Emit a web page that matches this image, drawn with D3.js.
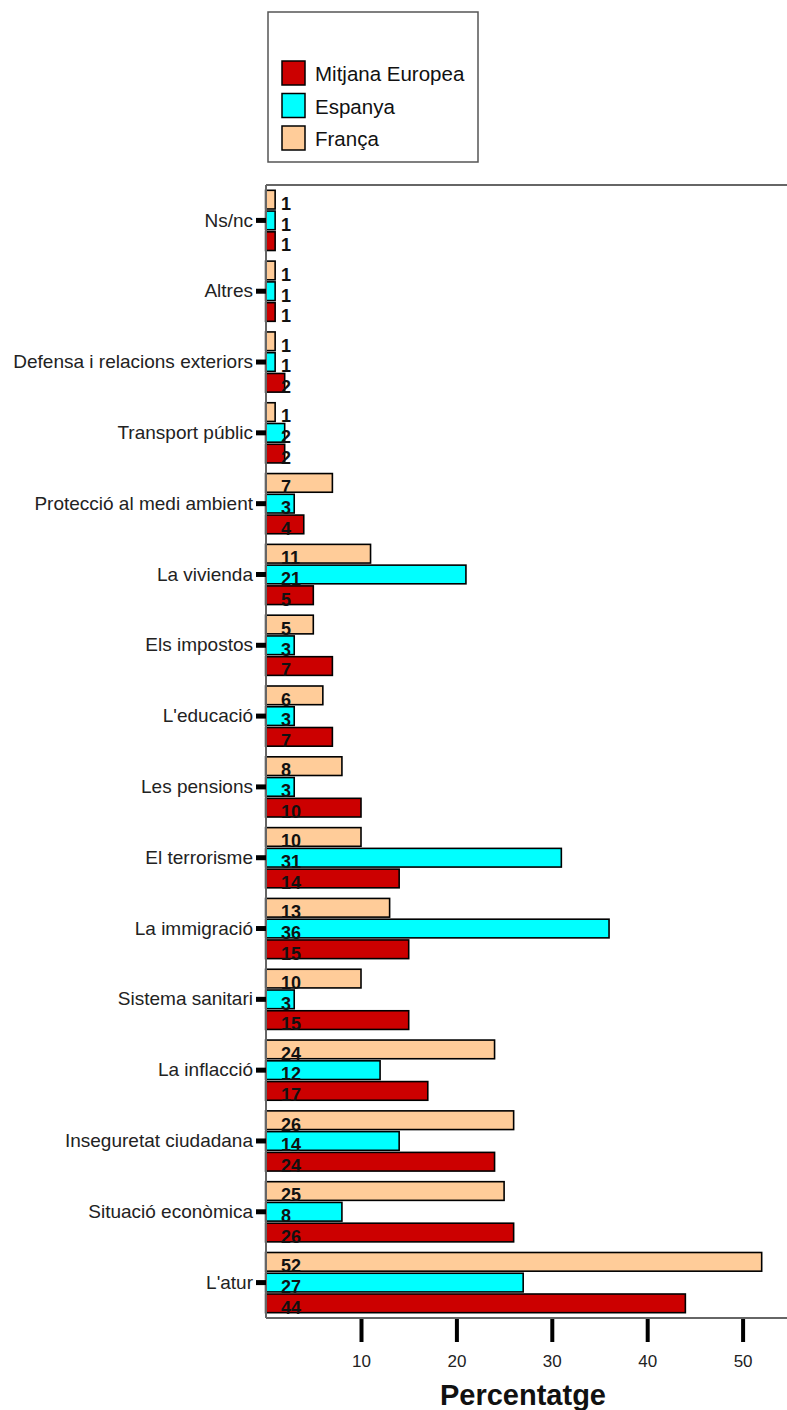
<!DOCTYPE html>
<html><head><meta charset="utf-8">
<script src="https://cdn.jsdelivr.net/npm/d3@7"></script>
<style>body{margin:0;background:#fff}svg{display:block;font-family:"Liberation Sans",Arial,sans-serif}</style>
</head><body>
<script>
const categories = ["Ns/nc","Altres","Defensa i relacions exteriors","Transport públic","Protecció al medi ambient","La vivienda","Els impostos","L'educació","Les pensions","El terrorisme","La immigració","Sistema sanitari","La inflacció","Inseguretat ciudadana","Situació econòmica","L'atur"];
const seriesNames = ["França","Espanya","Mitjana Europea"];
const franca  = [1,1,1,1,7,11,5,6,8,10,13,10,24,26,25,52];
const espanya = [1,1,1,2,3,21,3,3,3,31,36,3,12,14,8,27];
const mitjana = [1,1,2,2,4,5,7,7,10,14,15,15,17,24,26,44];
const xTicks = [10,20,30,40,50];
const colors = {"Mitjana Europea":"#cc0000","Espanya":"#00ffff","França":"#ffcc99"};
const legendOrder = ["Mitjana Europea","Espanya","França"];

(function(){
const W=787,H=1410;
const pL=266, pT=185, pB=1318, pR=787;
const FF="'Liberation Sans',Arial,sans-serif";
const svg=d3.select("body").append("svg").attr("width",W).attr("height",H);

const x=d3.scaleLinear().domain([0,10]).range([265.6,361]);
const y=d3.scaleBand().domain(categories).range([pT,pB]).paddingInner(0.15).paddingOuter(0.075);
const ys=d3.scaleBand().domain(seriesNames).range([0,y.bandwidth()]).paddingInner(0.1);

const data = categories.map((c,i)=>({cat:c, vals:[["França",franca[i]],["Espanya",espanya[i]],["Mitjana Europea",mitjana[i]]]}));

const g=svg.append("g");
const grp=g.selectAll("g.grp").data(data).join("g").attr("transform",d=>`translate(0,${y(d.cat)})`);
grp.selectAll("rect").data(d=>d.vals).join("rect")
  .attr("x",x(0)).attr("y",d=>ys(d[0])).attr("width",d=>x(d[1])-x(0)).attr("height",ys.bandwidth())
  .attr("fill",d=>colors[d[0]]).attr("stroke","#000").attr("stroke-width",1.6);
grp.selectAll("text").data(d=>d.vals).join("text")
  .attr("x",281).attr("y",d=>ys(d[0])+ys.bandwidth()+1)
  .attr("font-size",18).attr("font-weight","bold").attr("fill","#111").text(d=>d[1]);

svg.append("line").attr("x1",pL).attr("x2",pL).attr("y1",pT).attr("y2",pB).attr("stroke","#666").attr("stroke-width",2);
svg.append("line").attr("x1",pL).attr("x2",pR).attr("y1",pT).attr("y2",pT).attr("stroke","#666").attr("stroke-width",2);
svg.append("line").attr("x1",pL).attr("x2",pR).attr("y1",pB).attr("y2",pB).attr("stroke","#666").attr("stroke-width",2);

const xa=svg.append("g").attr("transform",`translate(0,${pB+1})`)
  .call(d3.axisBottom(x).tickValues(xTicks).tickSize(23).tickPadding(13).tickSizeOuter(0));
xa.select(".domain").remove();
xa.selectAll(".tick line").attr("stroke","#000").attr("stroke-width",4);
xa.selectAll(".tick text").attr("font-size",17).attr("fill","#222").attr("font-family",FF);

const ya=svg.append("g").attr("transform",`translate(${pL},0)`)
  .call(d3.axisLeft(y).tickSize(10).tickPadding(3).tickSizeOuter(0));
ya.select(".domain").remove();
ya.selectAll(".tick line").attr("stroke","#000").attr("stroke-width",5);
ya.selectAll(".tick text").attr("font-size",19).attr("fill","#222").attr("font-family",FF);

svg.append("text").attr("x",523).attr("y",1405).attr("text-anchor","middle")
  .attr("font-size",29).attr("font-weight","bold").attr("fill","#111").text("Percentatge");

const lg=svg.append("g");
lg.append("rect").attr("x",268).attr("y",12).attr("width",210).attr("height",150).attr("fill","#fff").attr("stroke","#555").attr("stroke-width",1.5);
legendOrder.forEach((n,i)=>{
  const yy=61+i*32.5;
  lg.append("rect").attr("x",282).attr("y",yy).attr("width",23).attr("height",24).attr("fill",colors[n]).attr("stroke","#000").attr("stroke-width",1.5);
  lg.append("text").attr("x",315).attr("y",yy+20).attr("font-size",20.5).attr("fill","#111").text(n);
});
})();
</script>
</body></html>
